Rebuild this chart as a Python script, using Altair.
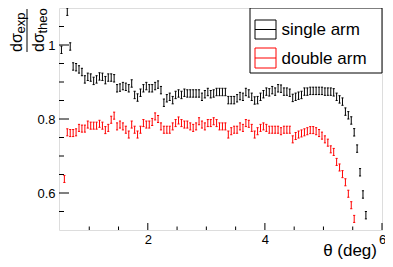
import altair as alt
import pandas as pd

# ---------------- data ----------------
theta_start = 0.525      # centre of first bin (deg)
bin_width = 0.05         # bin width (deg)

single_arm = [
    0.987, None, 1.09, 0.996, 0.942, 0.94, 0.934, 0.927, 0.907, 0.914,
    0.912, 0.903, 0.907, 0.915, 0.914, 0.905, 0.912, 0.912, 0.91, 0.883,
    0.885, 0.889, 0.887, 0.883, 0.896, 0.865, 0.858, 0.871, 0.883, 0.889,
    0.883, 0.883, 0.889, 0.893, 0.878, 0.844, 0.856, 0.86, 0.851, 0.865,
    0.869, 0.865, 0.871, 0.869, 0.869,
    0.869, 0.869, 0.869, 0.86, 0.867, 0.873, 0.867, 0.869, 0.873, 0.873,
    0.873, 0.873, 0.851, 0.851, 0.851, 0.856, 0.862, 0.86, 0.873, 0.869,
    0.86, 0.85,
    0.851, 0.86, 0.867, 0.874, 0.872, 0.878, 0.874, 0.883, 0.882, 0.874,
    0.874, 0.871, 0.857, 0.86, 0.863, 0.865, 0.874, 0.874, 0.876, 0.876,
    0.876, 0.876, 0.876, 0.874, 0.874, 0.874, 0.872,
    0.86, 0.853, 0.847, 0.82, 0.81, 0.796, 0.764, 0.72, 0.656, 0.596, 0.54,
]
single_err = 0.010

double_arm = [
    None, 0.638,
    0.764, 0.762, 0.762, 0.764, 0.776, 0.774, 0.774, 0.785, 0.782, 0.782,
    0.782, 0.787, 0.782, 0.77, 0.776, 0.798, 0.809, 0.78, 0.785, 0.78,
    0.771, 0.758, 0.785, 0.771, 0.758, 0.771, 0.789, 0.785, 0.785, 0.792,
    0.807, 0.8, 0.78, 0.771, 0.771, 0.771, 0.78, 0.789, 0.796, 0.789,
    0.785, 0.785,
    0.78, 0.776, 0.78, 0.794, 0.785, 0.78, 0.789, 0.789, 0.794, 0.789,
    0.78, 0.78, 0.78, 0.758, 0.767, 0.771, 0.771, 0.78, 0.776, 0.789,
    0.787, 0.776, 0.758, 0.767,
    0.776, 0.78, 0.776, 0.771, 0.771, 0.771, 0.771, 0.767, 0.771, 0.771, 0.771,
    0.745, 0.754, 0.758, 0.761, 0.764, 0.767, 0.77, 0.77, 0.767, 0.762, 0.755,
    0.745, 0.736, 0.718, 0.711, 0.684, 0.669, 0.651, 0.629, 0.598, 0.567, 0.53,
]
double_err = 0.0095

series_names = ["single arm", "double arm"]
series_colors = ["#000000", "#ff0000"]

x_domain = [0.4833, 6.0]
y_domain = [0.5, 1.1]
x_major = [2, 4, 6]
x_minor = [1.0, 1.5, 2.5, 3.0, 3.5, 4.5, 5.0, 5.5]
y_major = [0.6, 0.8, 1.0]
y_minor = [0.55, 0.65, 0.7, 0.75, 0.85, 0.9, 0.95, 1.05]

FONT = "Liberation Sans"
W, H = 323, 222
cap_half = 0.018

rows = []
for name, vals, err in [(series_names[0], single_arm, single_err),
                        (series_names[1], double_arm, double_err)]:
    for i, v in enumerate(vals):
        if v is None:
            continue
        t = theta_start + bin_width * i
        rows.append({"series": name, "theta": t, "value": v,
                     "lo": v - err, "hi": min(v + err, y_domain[1]),
                     "cl": t - cap_half, "cr": t + cap_half})
df = pd.DataFrame(rows)

xs = alt.Scale(domain=x_domain, nice=False, zero=False)
ys = alt.Scale(domain=y_domain, nice=False, zero=False)
cs = alt.Scale(domain=series_names, range=series_colors)

x_axis = alt.Axis(values=x_major, format="~g", labelFontSize=13, labelFont=FONT,
                  labelColor="black", ticks=False, tickSize=0, domain=False,
                  grid=False, title=None, labelPadding=3, labelFlush=False)
y_axis = alt.Axis(values=y_major, format="~g", labelFontSize=13, labelFont=FONT,
                  labelColor="black", ticks=False, tickSize=0, domain=False,
                  grid=False, title=None, labelPadding=4)

base = alt.Chart(df)
bars = base.mark_rule(strokeWidth=1, clip=True).encode(
    x=alt.X("theta:Q", scale=xs, axis=x_axis),
    y=alt.Y("lo:Q", scale=ys, axis=y_axis),
    y2="hi:Q",
    color=alt.Color("series:N", scale=cs, legend=None),
)
cap_lo = base.mark_rule(strokeWidth=1, clip=True).encode(
    x=alt.X("cl:Q", scale=xs, axis=x_axis), x2="cr:Q",
    y=alt.Y("lo:Q", scale=ys, axis=y_axis),
    color=alt.Color("series:N", scale=cs, legend=None),
)
cap_hi = base.mark_rule(strokeWidth=1, clip=True).encode(
    x=alt.X("cl:Q", scale=xs, axis=x_axis), x2="cr:Q",
    y=alt.Y("hi:Q", scale=ys, axis=y_axis),
    color=alt.Color("series:N", scale=cs, legend=None),
)

# inward ticks (ROOT style)
def xticks(vals, length):
    return alt.Chart(pd.DataFrame({"t": vals})).mark_rule(color="black", strokeWidth=1).encode(
        x=alt.X("t:Q", scale=xs, axis=x_axis),
        y=alt.value(H), y2=alt.value(H - length))

def yticks(vals, length):
    return alt.Chart(pd.DataFrame({"t": vals})).mark_rule(color="black", strokeWidth=1).encode(
        y=alt.Y("t:Q", scale=ys, axis=y_axis),
        x=alt.value(0), x2=alt.value(length))

one = alt.Data(values=[{}])

def text(s, x, y, size, angle=0, align="left", color="black"):
    kw = dict(align=align, baseline="alphabetic", fontSize=size, font=FONT, color=color)
    if angle:
        kw["angle"] = angle
    return alt.Chart(one).mark_text(**kw).encode(
        x=alt.value(x), y=alt.value(y), text=alt.value(s))

def hline(x1, x2, y, color="black"):
    return alt.Chart(one).mark_rule(color=color, strokeWidth=1).encode(
        x=alt.value(x1), x2=alt.value(x2), y=alt.value(y))

def vline(x, y1, y2, color="black"):
    return alt.Chart(one).mark_rule(color=color, strokeWidth=1).encode(
        x=alt.value(x), y=alt.value(y1), y2=alt.value(y2))

def box(x1, x2, y1, y2, color="black", fill="white"):
    return alt.Chart(one).mark_rect(stroke=color, strokeWidth=1, fill=fill).encode(
        x=alt.value(x1), x2=alt.value(x2), y=alt.value(y1), y2=alt.value(y2))

# legend (top right)
LX = W - 132
legend_layers = [
    box(LX, W, 0, 65),
    box(LX + 5, LX + 26, 12, 31, color=series_colors[0], fill="none"),
    hline(LX + 5, LX + 26, 21.5, color=series_colors[0]),
    text(series_names[0], LX + 31.5, 27, 17),
    box(LX + 5, LX + 26, 40, 60, color=series_colors[1], fill="none"),
    hline(LX + 5, LX + 26, 50, color=series_colors[1]),
    text(series_names[1], LX + 31.5, 55.5, 17),
]

# y-axis title: d sigma_exp / d sigma_theo (rotated fraction)
ytitle = [
    text("d\u03c3", -37, 44, 16, angle=270),
    text("exp", -34, 25.5, 13, angle=270),
    vline(-32, 1, 44),
    text("d\u03c3", -15.5, 44, 16, angle=270),
    text("theo", -12.5, 25.5, 13, angle=270),
]

xtitle = text("\u03b8 (deg)", W - 5, H + 26, 17, align="right")

chart = alt.layer(
    bars, cap_lo, cap_hi,
    *legend_layers,
    xticks(x_major, 7), xticks(x_minor, 3.5),
    yticks(y_major, 10), yticks(y_minor, 5),
    *ytitle, xtitle,
).properties(
    width=W, height=H,
    autosize=alt.AutoSizeParams(type="none"),
    padding={"left": 51, "top": 0, "right": 3, "bottom": 29},
).configure_view(
    stroke="black", strokeWidth=1
).configure(background="white")

chart.save("out.html", embed_options={"renderer": "svg", "actions": False})
